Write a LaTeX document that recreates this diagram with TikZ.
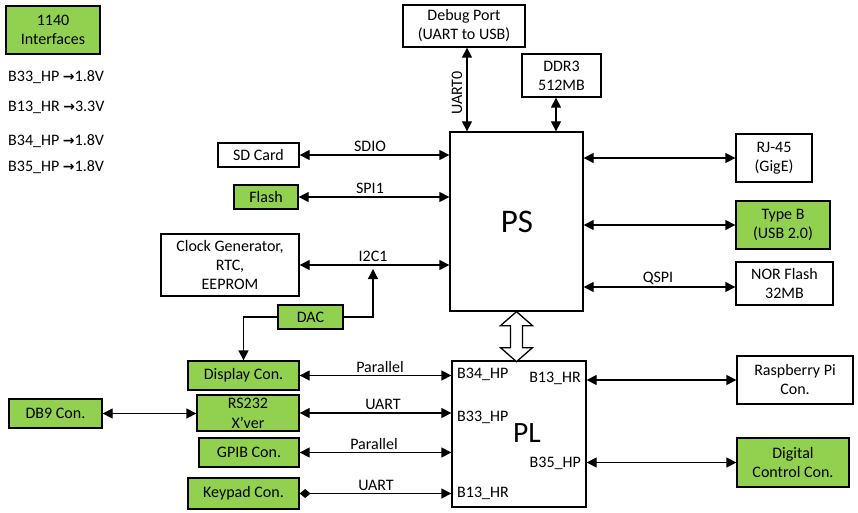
\documentclass[tikz,border=0pt]{standalone}
\usepackage{fontspec}
\setmainfont{Carlito}
\newfontfamily\symfont{DejaVu Sans}
\usetikzlibrary{arrows.meta,calc}
\definecolor{lgreen}{RGB}{146,208,80}
\newcommand{\myarr}{{\symfont\bfseries\fontsize{14}{16}\selectfont →}}
\begin{document}
\begin{tikzpicture}[x=1pt,y=-1pt,
  font=\fontsize{16}{19}\selectfont,
  box/.style={draw, line width=1.3pt, inner sep=0pt, align=center, fill=white},
  gbox/.style={box, fill=lgreen},
  sz/.style 2 args={minimum width=#1pt, minimum height=#2pt},
  tip/.tip={Triangle[length=10pt,width=10pt]},
  dbl/.style={line width=1.3pt, tip-tip},
  sgl/.style={line width=1.3pt, -tip},
  lbl/.style={inner sep=0pt}]
\useasboundingbox (0,0) rectangle (858,513);

% boxes
\node[gbox, sz={94}{48}] (iface) at (53,30) {1140\\Interfaces};
\node[box, sz={122}{42}] (debug) at (464,26) {Debug Port\\(UART to USB)};
\node[box, sz={79}{43}] (ddr) at (561.5,75.5) {DDR3\\512MB};
\node[box, sz={133}{179}] (ps) at (516.5,221.5) {};
\node[lbl, font=\fontsize{33}{38}\selectfont] (pslbl) at (517,221.5) {PS};
\node[box, sz={81}{24}] (sd) at (258.5,155) {SD Card};
\node[gbox, sz={64}{24}] (flash) at (266,197) {Flash};
\node[box, sz={138}{62}] (clk) at (230,265) {Clock Generator,\\RTC,\\EEPROM};
\node[gbox, sz={65}{24}] (dac) at (310.5,317) {DAC};
\node[gbox, sz={111}{29}] (display) at (243.5,375.5) {Display Con.};
\node[gbox, sz={102}{36}, font=\fontsize{16}{20}\selectfont] (rs232) at (248,413) {RS232\\X’ver};
\node[gbox, sz={93}{29}] (db9) at (55.5,413.5) {DB9 Con.};
\node[gbox, sz={100}{29}] (gpib) at (249,452.5) {GPIB Con.};
\node[gbox, sz={111}{31}] (keypad) at (243.5,493.5) {Keypad Con.};
\node[box, sz={134}{146}] (pl) at (519,434) {};
\node[lbl, font=\fontsize{29.5}{34}\selectfont] (pllbl) at (527,433) {PL};
\node[box, sz={116}{48}] (rpi) at (795,380) {Raspberry Pi\\Con.};
\node[gbox, sz={112}{49}] (dig) at (793,462.5) {Digital\\Control Con.};
\node[box, sz={76}{48}] (rj45) at (774,158) {RJ-45\\(GigE)};
\node[gbox, sz={94}{48}] (typeb) at (783,225) {Type B\\(USB 2.0)};
\node[box, sz={97}{43}] (nor) at (784.5,283.5) {NOR Flash\\32MB};

% voltage list
\node[lbl, anchor=west] (v1) at (8,77) {B33\_HP \myarr1.8V};
\node[lbl, anchor=west] (v2) at (8,107) {B13\_HR \myarr3.3V};
\node[lbl, anchor=west] (v3) at (8,141.5) {B34\_HP \myarr1.8V};
\node[lbl, anchor=west] (v4) at (8,167) {B35\_HP \myarr1.8V};

% PL pin labels
\node[lbl, anchor=west] (p1) at (457,374) {B34\_HP};
\node[lbl, anchor=west] (p2) at (457,417) {B33\_HP};
\node[lbl, anchor=west] (p3) at (457,493) {B13\_HR};
\node[lbl, anchor=east] (p4) at (581,378) {B13\_HR};
\node[lbl, anchor=east] (p5) at (581,463) {B35\_HP};

% PS top connections
\coordinate (ux) at (467,0);
\coordinate (dx) at (556,0);
\draw[dbl] (debug.south -| ux) -- (ps.north -| ux);
\node[lbl, rotate=90] (uart0) at (457,93) {UART0};
\draw[dbl] (ddr.south -| dx) -- (ps.north -| dx);

% PS left connections
\draw[dbl] (sd.east) -- (sd.east -| ps.west);
\node[lbl] (sdio) at (370,146) {SDIO};
\draw[dbl] (flash.east) -- (flash.east -| ps.west);
\node[lbl] (spi1) at (370,188) {SPI1};
\draw[dbl] (clk.east) -- (clk.east -| ps.west);
\node[lbl] (i2c1) at (373,256) {I2C1};

% DAC
\coordinate (dacup) at (373,269);
\draw[sgl] (dac.east) -| (dacup);
\draw[sgl] (dac.west) -| (display.north);

% PS right connections
\draw[dbl] (ps.east |- rj45.west) -- (rj45.west);
\draw[dbl] (ps.east |- typeb.west) -- (typeb.west);
\coordinate (qy) at (0,287);
\draw[dbl] (ps.east |- qy) -- (nor.west |- qy);
\node[lbl] (qspi) at (658,278) {QSPI};

% PS-PL hollow arrow
\draw[line width=1.3pt, fill=white] (ps.south) -- ++(-16,14) -- ++(10,0) -- ++(0,22)
  -- ++(-10,0) -- ++(16,14) -- ++(16,-14) -- ++(-10,0) -- ++(0,-22) -- ++(10,0) -- cycle;

% PL left connections
\draw[dbl] (display.east) -- (display.east -| pl.west);
\node[lbl] (par1) at (380,367) {Parallel};
\draw[dbl] (rs232.east) -- (rs232.east -| pl.west);
\node[lbl] (uart1) at (383,404) {UART};
\draw[dbl] (gpib.east) -- (gpib.east -| pl.west);
\node[lbl] (par2) at (374,444) {Parallel};
\draw[line width=1.3pt, {Diamond[length=11pt,width=9pt]}-tip] (keypad.east) -- (keypad.east -| pl.west);
\node[lbl] (uart2) at (376,485) {UART};
\draw[dbl] (db9.east) -- (db9.east -| rs232.west);

% PL right connections
\draw[dbl] (pl.east |- rpi.west) -- (rpi.west);
\draw[dbl] (pl.east |- dig.west) -- (dig.west);
\end{tikzpicture}
\end{document}
